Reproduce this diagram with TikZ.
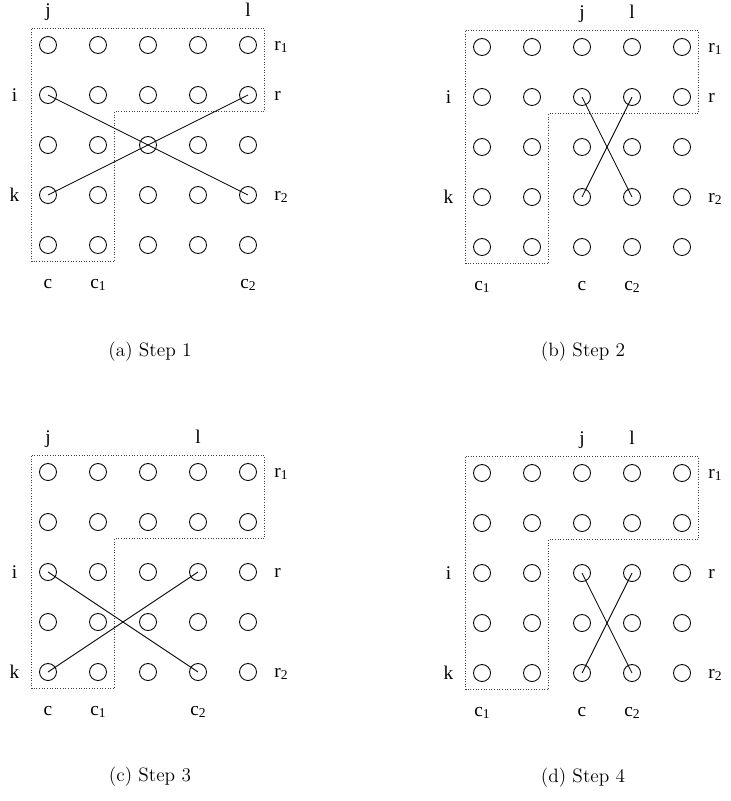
\documentclass[tikz,border=0pt]{standalone}
\usepackage{fontspec}
\newfontfamily\timesf{Liberation Serif}
\usetikzlibrary{positioning}
\tikzset{
  spot/.style={circle,draw,line width=0.5pt,minimum size=0.34cm,inner sep=0pt},
  lbl/.style={font=\fontsize{11}{13}\timesf\selectfont,inner sep=0pt},
  region/.style={draw=black!75,densely dotted,line width=0.5pt},
  swap/.style={line width=0.5pt},
  caption/.style={font=\fontsize{11}{13}\selectfont\addfontfeatures{LetterSpace=9}}
}
% 5x5 grid of spots plus the dotted L-shaped region
\newcommand\spotgrid{%
  \foreach \c in {1,...,5}
    \foreach \r in {1,...,5}
      \node[spot] (n\c\r) at (\c-1,1-\r) {};
  \draw[region] (-0.33,0.33) -- (4.33,0.33) -- (4.33,-1.33) -- (1.33,-1.33)
    -- (1.33,-4.33) -- (-0.33,-4.33) -- cycle;
}

\begin{document}
\begin{tikzpicture}
  \useasboundingbox (0,0) rectangle (14.6,-16.02);

  % (a) step 1
  \begin{scope}[shift={(0.96,-0.9)},name prefix=a-]
    \spotgrid
    \node[lbl,anchor=base] (j) at (0,0.58) {j};
    \node[lbl,anchor=base] (l) at (4,0.58) {l};
    \node[lbl,anchor=base west] (r1) at (4.52,-0.1) {r\textsubscript{1}};
    \node[lbl,anchor=base west] (r) at (4.52,-1.1) {r};
    \node[lbl,anchor=base west] (r2) at (4.52,-3.1) {r\textsubscript{2}};
    \node[lbl,anchor=base] (i) at (-0.67,-1.12) {i};
    \node[lbl,anchor=base] (k) at (-0.67,-3.12) {k};
    \node[lbl,anchor=base] (c) at (0,-4.86) {c};
    \node[lbl,anchor=base west] (c1) at (0.84,-4.86) {c\textsubscript{1}};
    \node[lbl,anchor=base west] (c2) at (3.84,-4.86) {c\textsubscript{2}};
    \draw[swap] (n12.center) -- (n54.center);
    \draw[swap] (n52.center) -- (n14.center);
    \node[caption] (cap) at (2.04,-6.14) {(a) Step 1};
  \end{scope}

  % (b) step 2
  \begin{scope}[shift={(9.64,-0.94)},name prefix=b-]
    \spotgrid
    \node[lbl,anchor=base] (j) at (2,0.58) {j};
    \node[lbl,anchor=base] (l) at (3,0.58) {l};
    \node[lbl,anchor=base west] (r1) at (4.52,-0.1) {r\textsubscript{1}};
    \node[lbl,anchor=base west] (r) at (4.52,-1.1) {r};
    \node[lbl,anchor=base west] (r2) at (4.52,-3.1) {r\textsubscript{2}};
    \node[lbl,anchor=base] (i) at (-0.67,-1.12) {i};
    \node[lbl,anchor=base] (k) at (-0.67,-3.12) {k};
    \node[lbl,anchor=base west] (c1) at (-0.16,-4.86) {c\textsubscript{1}};
    \node[lbl,anchor=base] (c) at (2,-4.86) {c};
    \node[lbl,anchor=base west] (c2) at (2.84,-4.86) {c\textsubscript{2}};
    \draw[swap] (n32.center) -- (n44.center);
    \draw[swap] (n42.center) -- (n34.center);
    \node[caption] (cap) at (2.02,-6.1) {(b) Step 2};
  \end{scope}

  % (c) step 3
  \begin{scope}[shift={(0.96,-9.44)},name prefix=c-]
    \spotgrid
    \node[lbl,anchor=base] (j) at (0,0.58) {j};
    \node[lbl,anchor=base] (l) at (3,0.58) {l};
    \node[lbl,anchor=base west] (r1) at (4.52,-0.1) {r\textsubscript{1}};
    \node[lbl,anchor=base west] (r) at (4.52,-2.1) {r};
    \node[lbl,anchor=base west] (r2) at (4.52,-4.1) {r\textsubscript{2}};
    \node[lbl,anchor=base] (i) at (-0.67,-2.12) {i};
    \node[lbl,anchor=base] (k) at (-0.67,-4.12) {k};
    \node[lbl,anchor=base] (c) at (0,-4.86) {c};
    \node[lbl,anchor=base west] (c1) at (0.84,-4.86) {c\textsubscript{1}};
    \node[lbl,anchor=base west] (c2) at (2.84,-4.86) {c\textsubscript{2}};
    \draw[swap] (n13.center) -- (n45.center);
    \draw[swap] (n43.center) -- (n15.center);
    \node[caption] (cap) at (2.04,-6.1) {(c) Step 3};
  \end{scope}

  % (d) step 4
  \begin{scope}[shift={(9.64,-9.46)},name prefix=d-]
    \spotgrid
    \node[lbl,anchor=base] (j) at (2,0.58) {j};
    \node[lbl,anchor=base] (l) at (3,0.58) {l};
    \node[lbl,anchor=base west] (r1) at (4.52,-0.1) {r\textsubscript{1}};
    \node[lbl,anchor=base west] (r) at (4.52,-2.1) {r};
    \node[lbl,anchor=base west] (r2) at (4.52,-4.1) {r\textsubscript{2}};
    \node[lbl,anchor=base] (i) at (-0.67,-2.12) {i};
    \node[lbl,anchor=base] (k) at (-0.67,-4.12) {k};
    \node[lbl,anchor=base west] (c1) at (-0.16,-4.86) {c\textsubscript{1}};
    \node[lbl,anchor=base] (c) at (2,-4.86) {c};
    \node[lbl,anchor=base west] (c2) at (2.84,-4.86) {c\textsubscript{2}};
    \draw[swap] (n33.center) -- (n45.center);
    \draw[swap] (n43.center) -- (n35.center);
    \node[caption] (cap) at (2.02,-6.1) {(d) Step 4};
  \end{scope}
\end{tikzpicture}
\end{document}
